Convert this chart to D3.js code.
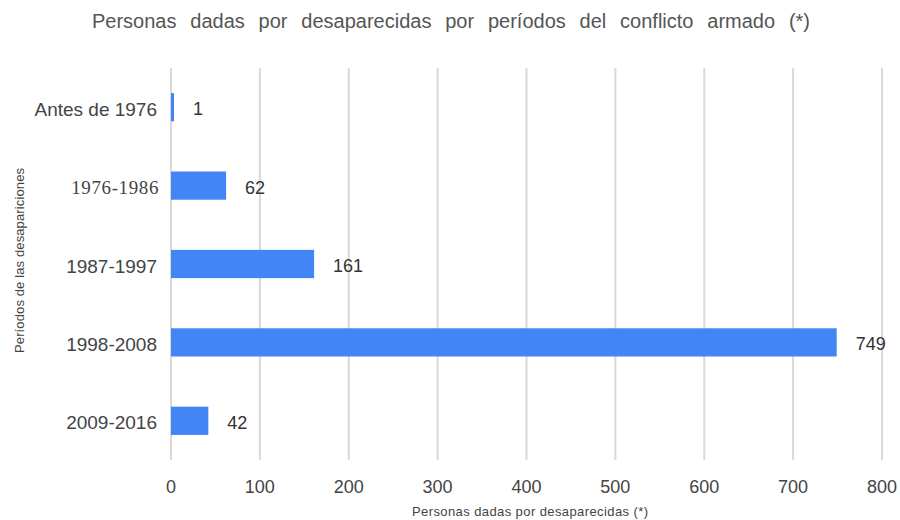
<!DOCTYPE html>
<html>
<head>
<meta charset="utf-8">
<script src="https://cdn.jsdelivr.net/npm/d3@7/dist/d3.min.js"></script>
<style>
  body { margin: 0; background: #fff; }
  svg { display: block; }
</style>
</head>
<body>
<div id="chart"></div>
<script>
const periods = ['Antes de 1976', '1976-1986', '1987-1997', '1998-2008', '2009-2016'];
const counts = [1, 62, 161, 749, 42];
const xTicks = [0, 100, 200, 300, 400, 500, 600, 700, 800];

const width = 900, height = 520;
const margin = { top: 68, right: 18, bottom: 60, left: 171 };
const BLUE = '#4285F4';
const GRID = '#d9d9d9';
const TEXT = '#444';
const SANS = '"Liberation Sans", Arial, sans-serif';
const NARROW = '"Liberation Sans Narrow", "Liberation Sans", Arial, sans-serif';

const svg = d3.select('#chart').append('svg')
  .attr('width', width).attr('height', height);

const x = d3.scaleLinear().domain([0, 800]).range([margin.left, width - margin.right]);
const y = d3.scaleBand().domain(periods).range([margin.top, height - margin.bottom]).paddingInner(0.64).paddingOuter(0.32);

// gridlines
svg.append('g')
  .selectAll('line')
  .data(xTicks)
  .join('line')
  .attr('x1', d => x(d)).attr('x2', d => x(d))
  .attr('y1', margin.top).attr('y2', height - margin.bottom)
  .attr('stroke', GRID).attr('stroke-width', 2);

// x tick labels
svg.append('g')
  .selectAll('text')
  .data(xTicks)
  .join('text')
  .attr('x', d => x(d)).attr('y', 493)
  .attr('text-anchor', 'middle')
  .attr('font-family', NARROW).attr('font-size', 18).attr('fill', TEXT)
  .text(d => d);

// bars
svg.append('g')
  .selectAll('rect')
  .data(periods)
  .join('rect')
  .attr('x', x(0))
  .attr('y', d => y(d))
  .attr('height', y.bandwidth())
  .attr('width', (d, i) => Math.max(x(counts[i]) - x(0), 3))
  .attr('fill', BLUE);

// value labels
svg.append('g')
  .selectAll('text')
  .data(periods)
  .join('text')
  .attr('x', (d, i) => Math.max(x(counts[i]), x(0) + 3) + 19)
  .attr('y', d => y(d) + y.bandwidth() / 2 + 2)
  .attr('dominant-baseline', 'central')
  .attr('font-family', SANS).attr('font-size', 18).attr('fill', '#333')
  .text((d, i) => counts[i]);

// category labels
svg.append('g')
  .selectAll('text')
  .data(periods)
  .join('text')
  .attr('x', d => d === '1976-1986' ? 159 : 157)
  .attr('y', d => y(d) + y.bandwidth() / 2 + 2)
  .attr('text-anchor', 'end')
  .attr('dominant-baseline', 'central')
  .attr('font-family', d => d === '1976-1986' ? '"Liberation Serif", "Times New Roman", serif' : SANS)
  .attr('font-size', 19)
  .attr('letter-spacing', d => d === '1976-1986' ? 0.6 : 0)
  .attr('fill', TEXT)
  .text(d => d);

// title: stretch word gaps to the reference width
const titleText = 'Personas dadas por desaparecidas por períodos del conflicto armado (*)';
const title = svg.append('text')
  .attr('x', 92).attr('y', 28)
  .attr('font-family', NARROW).attr('font-size', 20).attr('fill', '#555')
  .text(titleText);
const gaps = titleText.split(' ').length - 1;
title.attr('word-spacing', (718 - title.node().getComputedTextLength()) / gaps);

// axis titles
svg.append('text')
  .attr('x', 412).attr('y', 516)
  .attr('font-family', NARROW).attr('font-size', 13).attr('fill', TEXT)
  .attr('textLength', 236).attr('lengthAdjust', 'spacing')
  .text('Personas dadas por desaparecidas (*)');

svg.append('text')
  .attr('transform', 'translate(24,353) rotate(-90)')
  .attr('font-family', SANS).attr('font-size', 13).attr('fill', TEXT)
  .attr('textLength', 185).attr('lengthAdjust', 'spacing')
  .text('Períodos de las desapariciones');
</script>
</body>
</html>
